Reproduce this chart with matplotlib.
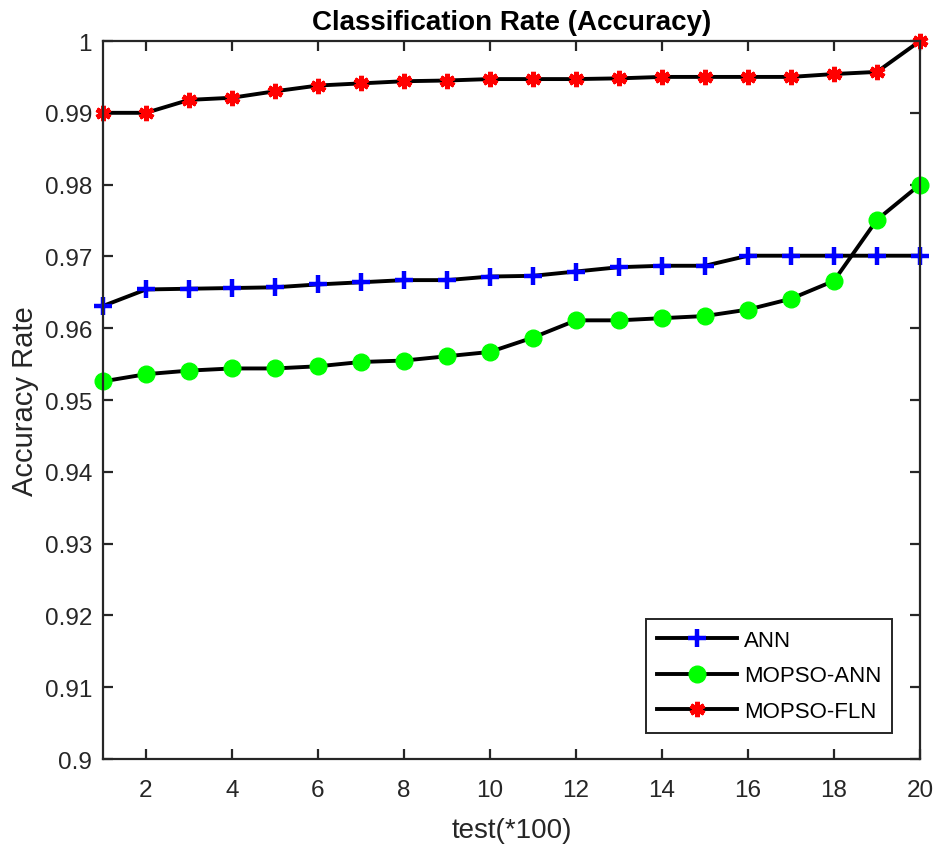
import numpy as np
import matplotlib.pyplot as plt

x = np.arange(1, 21)
ann = [0.9631, 0.9654, 0.9655, 0.9656, 0.9657, 0.9661, 0.9664, 0.9667, 0.9667, 0.9672,
       0.9673, 0.9679, 0.9685, 0.9687, 0.9687, 0.9701, 0.9701, 0.9701, 0.9701, 0.9701]
mopso_ann = [0.9526, 0.9536, 0.9541, 0.9544, 0.9544, 0.9547, 0.9553, 0.9555, 0.9561, 0.9567,
             0.9587, 0.9611, 0.9611, 0.9614, 0.9617, 0.9626, 0.9641, 0.9666, 0.9751, 0.9800]
mopso_fln = [0.9900, 0.9900, 0.9918, 0.9921, 0.9930, 0.9938, 0.9941, 0.9944, 0.9945, 0.9947,
             0.9947, 0.9947, 0.9948, 0.9950, 0.9950, 0.9950, 0.9950, 0.9954, 0.9957, 1.0000]
yticks = np.round(np.arange(0.90, 1.001, 0.01), 2)
ytick_labels = ['0.9', '0.91', '0.92', '0.93', '0.94', '0.95', '0.96', '0.97', '0.98', '0.99', '1']
xticks = np.arange(2, 21, 2)

plt.rcParams['font.family'] = ['Liberation Sans', 'DejaVu Sans']

fig = plt.figure(figsize=(9.33, 8.54), dpi=100)
ax = fig.add_axes([0.1104, 0.110, 0.8756, 0.8408])

ax.plot(x, ann, '-', color='black', lw=2.8, marker='+', ms=13, mew=3.2,
        mec='blue', mfc='blue', label='ANN', clip_on=False)
ax.plot(x, mopso_ann, '-', color='black', lw=2.8, marker='o', ms=12,
        mec='#00ff00', mfc='#00ff00', label='MOPSO-ANN', clip_on=False)
ax.plot(x, mopso_fln, '-', color='black', lw=2.8, marker=(6, 2, 0), ms=11, mew=3.5,
        mec='red', mfc='red', label='MOPSO-FLN', clip_on=False)

ax.set_xlim(1, 20)
ax.set_ylim(0.9, 1.0)
ax.set_xticks(xticks)
ax.set_yticks(yticks)
ax.set_yticklabels(ytick_labels)
ax.tick_params(direction='in', length=7, width=1.6, labelsize=17.5, top=True, right=True,
               colors='#262626', labelcolor='#262626')
ax.tick_params(axis='x', pad=14)
ax.tick_params(axis='y', pad=8)
for s in ax.spines.values():
    s.set_linewidth(1.6)
    s.set_color('#262626')

ax.set_title('Classification Rate (Accuracy)', fontsize=20, fontweight='bold', pad=9)
ax.set_xlabel('test(*100)', fontsize=20, color='#262626', labelpad=12)
ax.set_ylabel('Accuracy Rate', fontsize=21, color='#262626', labelpad=4)

leg = ax.legend(loc='lower right', fontsize=16, handlelength=3.6, handletextpad=0.3,
                fancybox=False, edgecolor='#262626', framealpha=1, borderpad=0.5,
                labelspacing=0.65, bbox_to_anchor=(0.980, 0.021))
leg.get_frame().set_linewidth(1.4)

fig.savefig('out.png', dpi=100)
